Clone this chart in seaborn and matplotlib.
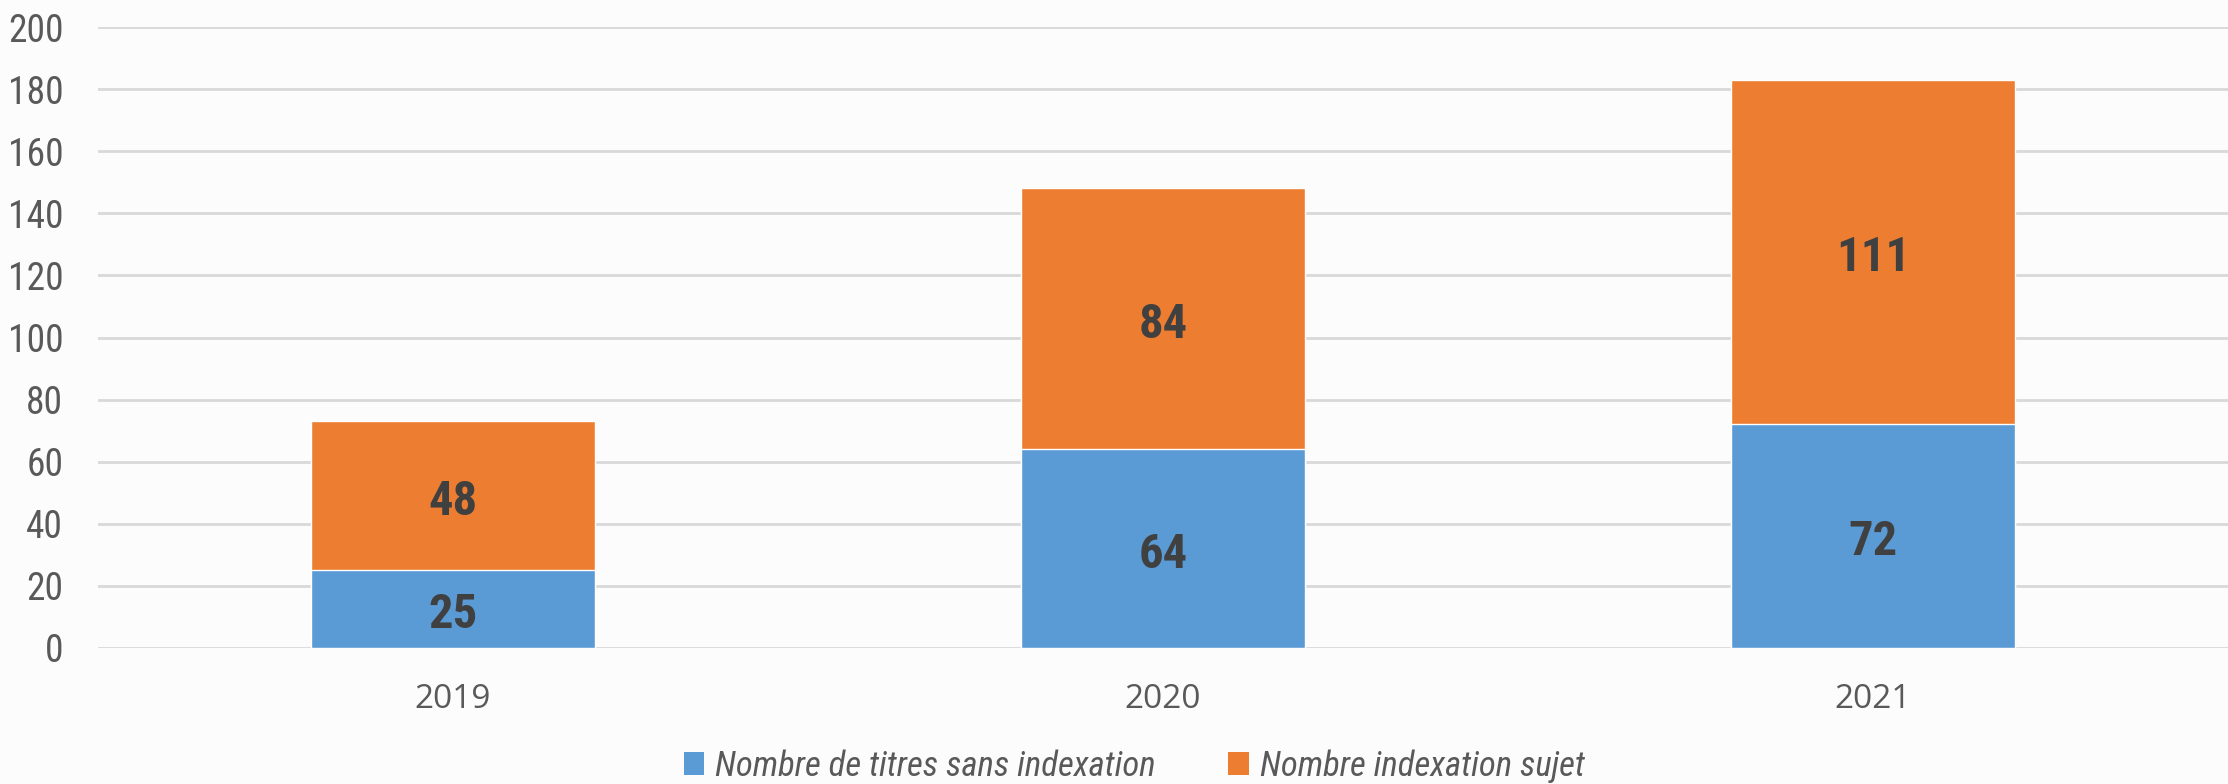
import matplotlib
matplotlib.use("Agg")
import matplotlib.pyplot as plt
import matplotlib.patches as patches
from matplotlib import font_manager
import numpy as np
import pandas as pd
import seaborn as sns

# data
years = ["2019", "2020", "2021"]
sans_indexation = [25, 64, 72]
indexation_sujet = [48, 84, 111]
series_names = ["Nombre de titres sans indexation", "Nombre indexation sujet"]

blue = "#5B9BD5"
orange = "#ED7D31"

# narrow Arial-like face if there is one, else plain Liberation Sans
installed = {f.name for f in font_manager.fontManager.ttflist}
narrow_face = None
for name in ["Liberation Sans Narrow", "Roboto Condensed", "Open Sans Condensed"]:
    if name in installed:
        narrow_face = name
        break
if narrow_face:
    main_font = [narrow_face, "DejaVu Sans"]
    ytick_size, value_size, legend_size = 27, 35, 25
else:
    main_font = ["Liberation Sans", "DejaVu Sans"]
    ytick_size, value_size, legend_size = 25, 32, 22

df = pd.DataFrame({"year": years,
                   "sans": sans_indexation,
                   "sujet": indexation_sujet})
df["total"] = df["sans"] + df["sujet"]

sns.set_theme(style="white")
plt.rcParams["font.family"] = main_font

fig = plt.figure(figsize=(22.28, 7.84), dpi=100)
fig.patch.set_facecolor("#fcfcfc")
ax = fig.add_axes([0.044, 0.1735, 0.956, 0.792])
ax.set_facecolor("#fcfcfc")

# stacked: totals in orange, then the bottom part in blue over it
sns.barplot(data=df, x="year", y="total", color=orange, width=0.4,
            saturation=1, ax=ax, zorder=2)
sns.barplot(data=df, x="year", y="sans", color=blue, width=0.4,
            saturation=1, ax=ax, zorder=3)

ax.set_ylim(0, 200)
ax.set_yticks(np.arange(0, 201, 20))
ax.set_xlim(-0.5, 2.5)
ax.set_xlabel("")
ax.set_ylabel("")
ax.grid(axis="y", color="#d9d9d9", linewidth=2, zorder=0)
ax.set_axisbelow(True)
for s in ax.spines.values():
    s.set_visible(False)

ax.tick_params(axis="y", length=0, pad=25, labelsize=ytick_size, labelcolor="#595959")
ax.tick_params(axis="x", length=0, pad=25, labelsize=24, labelcolor="#595959")
for lab in ax.get_xticklabels():
    lab.set_fontfamily(["Open Sans", "DejaVu Sans"])

# value labels centred in each segment
for i in range(len(years)):
    b = sans_indexation[i]
    t = indexation_sujet[i]
    for val, ymid in [(b, b / 2), (t, b + t / 2)]:
        ax.annotate(str(val), (i, ymid), xytext=(0, -4.5), textcoords="offset points",
                    ha="center", va="center", fontsize=value_size,
                    fontweight="bold", color="#404040", zorder=4)

handles = [patches.Patch(facecolor=blue, edgecolor="none"),
           patches.Patch(facecolor=orange, edgecolor="none")]
fig.legend(handles, series_names, loc="center", bbox_to_anchor=(0.509, 0.023),
           ncol=2, frameon=False, handlelength=0.6, handleheight=0.6,
           handletextpad=0.3, columnspacing=2.1,
           prop={"family": main_font, "style": "italic", "size": legend_size},
           labelcolor="#595959")

fig.savefig("out.png", dpi=100, facecolor=fig.get_facecolor())
